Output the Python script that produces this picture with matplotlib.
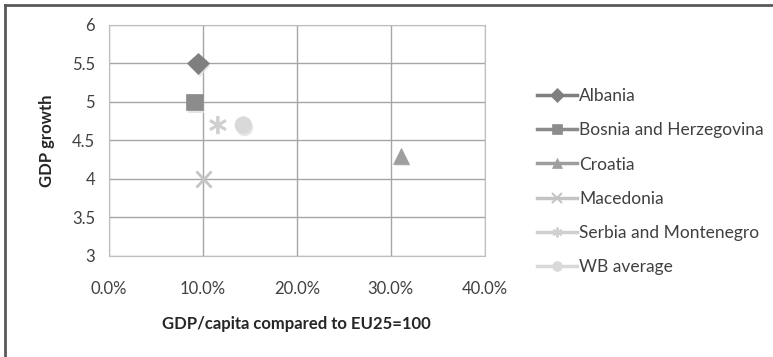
import matplotlib
matplotlib.use("Agg")
import matplotlib.pyplot as plt
import matplotlib.patheffects as pe
from matplotlib.ticker import FuncFormatter
from matplotlib.lines import Line2D

plt.rcParams['font.family'] = ['Lato', 'DejaVu Sans']

countries = ['Albania', 'Bosnia and Herzegovina', 'Croatia', 'Macedonia',
             'Serbia and Montenegro', 'WB average']
gdp_capita = [9.5, 9.1, 31.1, 10.1, 11.6, 14.3]   # % of EU25
gdp_growth = [5.5, 5.0, 4.3, 4.0, 4.7, 4.7]

markers = ['D', 's', '^', 'x', (6, 2, 0), 'o']
colors = ['#7f7f7f', '#8c8c8c', '#9e9e9e', '#c4c4c4', '#d0d0d0', '#d9d9d9']
sizes = [11, 12, 11, 11, 13, 12]

fig = plt.figure(figsize=(7.73, 3.57), dpi=100)
ax = fig.add_axes([0.141, 0.283, 0.486, 0.647])

shadow = [pe.SimplePatchShadow(offset=(1, -2), shadow_rgbFace='#e0e0e0', alpha=0.8), pe.Normal()]

handles = []
for c, x, y, m, col, s in zip(countries, gdp_capita, gdp_growth, markers, colors, sizes):
    thin = m in ('x', (6, 2, 0))
    ax.plot([x], [y], linestyle='none', marker=m, markersize=s, color=col,
            markeredgewidth=2 if thin else 0.5, markeredgecolor=col,
            path_effects=shadow, zorder=3)
    handles.append(Line2D([], [], color=col, linewidth=2.5, marker=m,
                          markersize=7, markeredgewidth=1.5 if thin else 0.5,
                          markeredgecolor=col, label=c))

ax.set_xlim(0, 40)
ax.set_ylim(3, 6)
ax.set_xticks([0, 10, 20, 30, 40])
ax.set_yticks([3, 3.5, 4, 4.5, 5, 5.5, 6])
ax.xaxis.set_major_formatter(FuncFormatter(lambda v, p: f'{v:.1f}%'))
ax.yaxis.set_major_formatter(FuncFormatter(lambda v, p: f'{v:g}'))
ax.grid(True, color='#a6a6a6', linewidth=1)
ax.set_axisbelow(True)
for sp in ax.spines.values():
    sp.set_color('#bfbfbf')
ax.tick_params(length=0, labelsize=12, colors='#404040', pad=10)
ax.tick_params(axis='x', pad=18)

ax.set_xlabel('GDP/capita compared to EU25=100', fontsize=12, fontweight='bold',
              color='#262626', labelpad=14)
ax.set_ylabel('GDP growth', fontsize=12, fontweight='bold', color='#262626', labelpad=12)

fig.legend(handles=handles, loc='upper left', bbox_to_anchor=(0.675, 0.797),
           frameon=False, fontsize=12.5, handlelength=2.3, handletextpad=0.1,
           labelspacing=1.05, labelcolor='#404040')

# outer chart frame (left and top edges visible)
fig.add_artist(Line2D([0.006, 0.006], [0.0, 0.986], color='#595959', linewidth=2,
                      transform=fig.transFigure))
fig.add_artist(Line2D([0.006, 1.0], [0.986, 0.986], color='#595959', linewidth=2,
                      transform=fig.transFigure))

fig.savefig('out.png', dpi=100)
